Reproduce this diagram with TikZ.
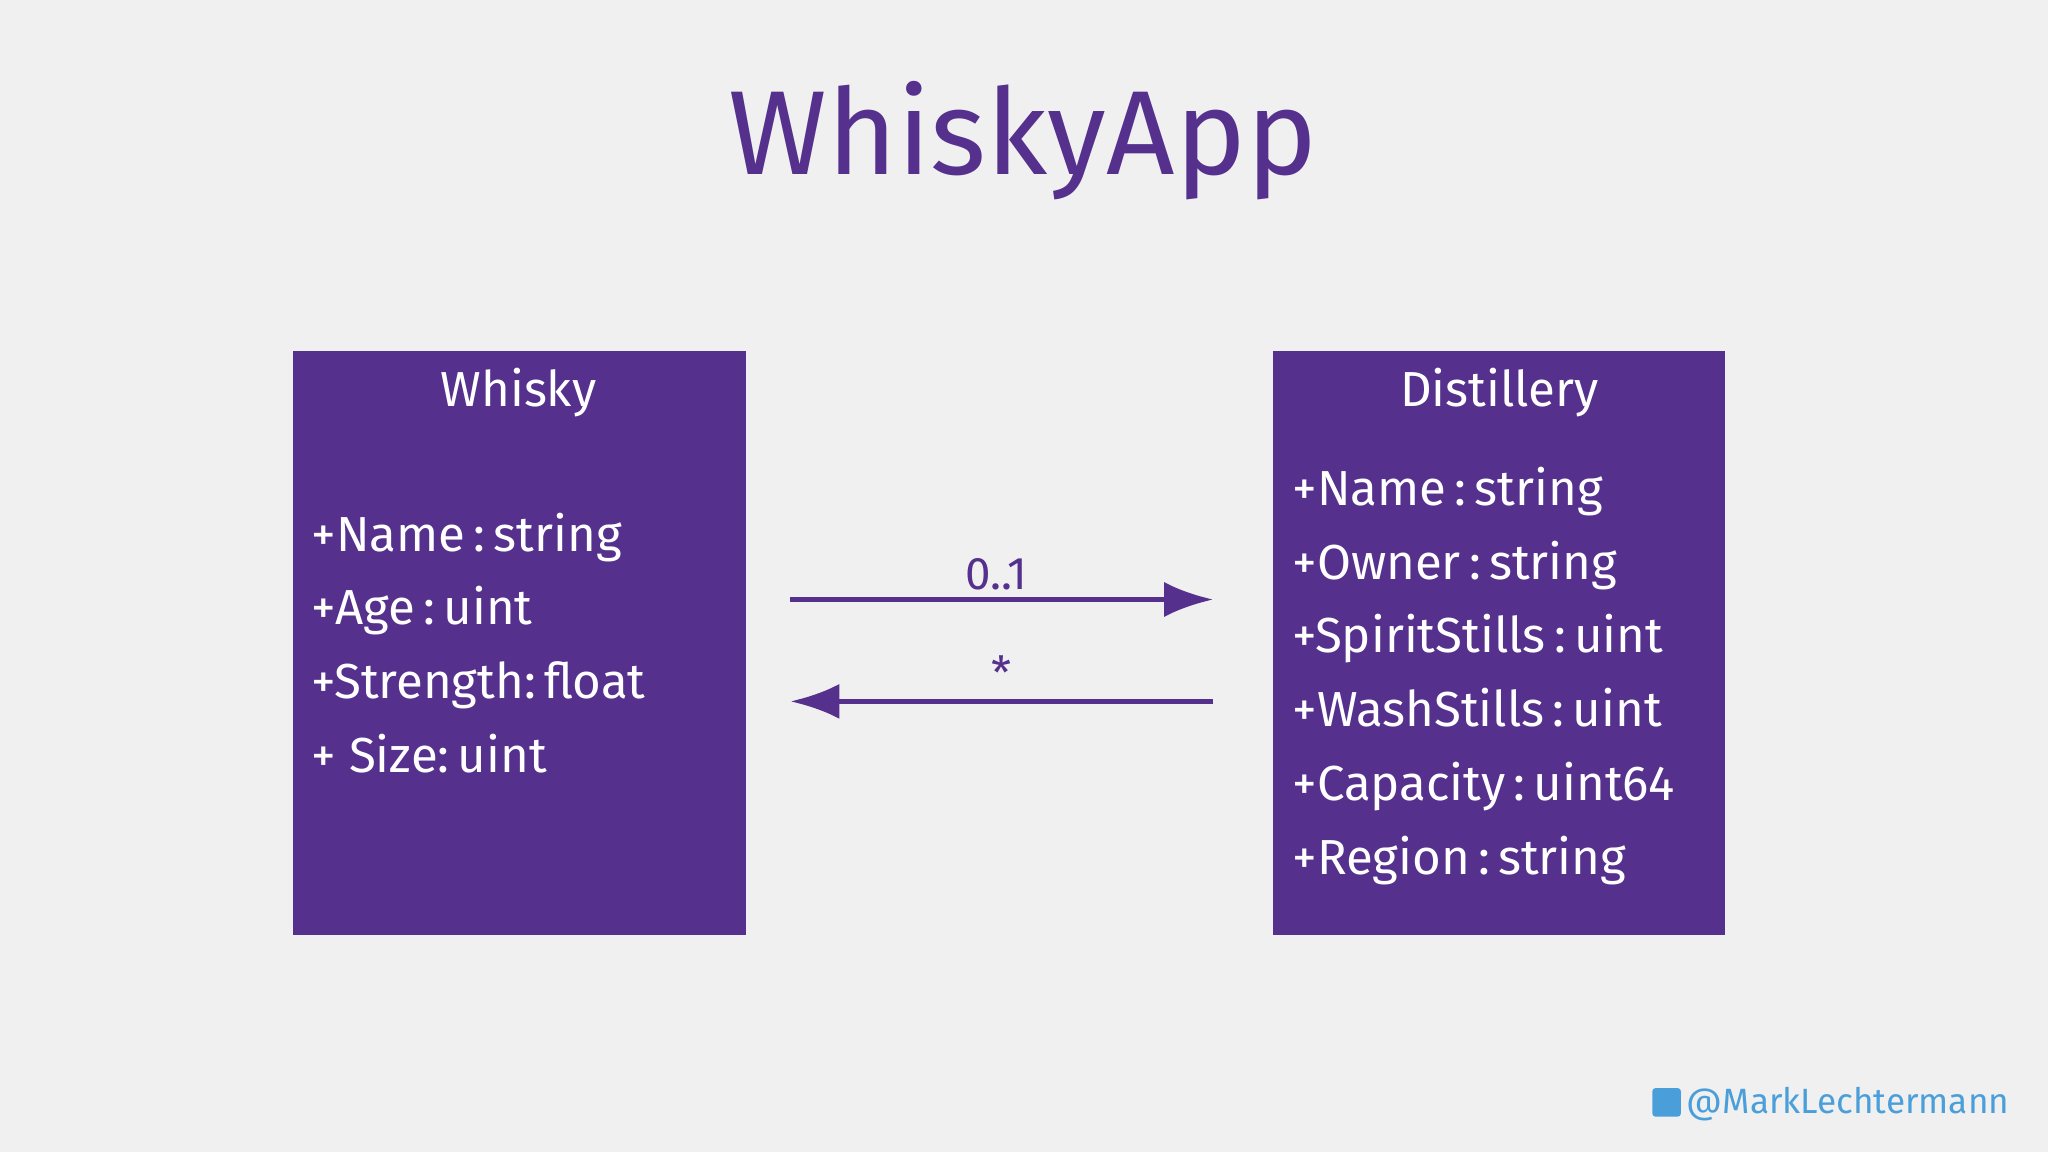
\documentclass[tikz,border=0pt]{standalone}
\usepackage{fontspec}
\setmainfont{Fira Sans}
\usetikzlibrary{arrows.meta}
\definecolor{appviolet}{HTML}{55308D}
\definecolor{appback}{HTML}{F0F0F0}
\definecolor{twblue}{HTML}{4A9FDB}
\tikzset{
  classbox/.style={fill=appviolet, draw=none},
  classname/.style={text=white, font=\fontsize{14}{16}\selectfont, anchor=north},
  attr/.style={text=white, font=\fontsize{14}{21}\selectfont, align=left, anchor=north west, inner sep=0pt},
  assoc/.style={draw=appviolet, line width=1.6pt, -{Latex[length=14pt,width=10pt]}},
  mult/.style={text=appviolet, font=\fontsize{13}{15}\selectfont}
}
\begin{document}
\begin{tikzpicture}[x=0.01306cm, y=-0.01306cm]
      \fill [appback] (0,0) rectangle (1568,882);
      \useasboundingbox (0,0) rectangle (1568,882);
      \node [text=appviolet, font=\fontsize{34}{40}\selectfont] (title) at (783,108) {WhiskyApp};
      % class boxes
      \fill [classbox] (224,269) rectangle (571,716);
      \fill [classbox] (975,269) rectangle (1321,716);
      \node [classname] (whisky) at (397,272) {Whisky};
      \node [classname] (distillery) at (1148,272) {Distillery};
      \node [attr] (whiskyattr) at (238,392) {+Name\,:\,string\\+Age\,:\,uint\\+Strength:\,float\\+ Size:\,uint};
      \node [attr] (distattr) at (989,357) {+Name\,:\,string\\+Owner\,:\,string\\+SpiritStills\,:\,uint\\+WashStills\,:\,uint\\+Capacity\,:\,uint64\\+Region\,:\,string};
      % associations
      \coordinate (topl) at (605,459);
      \coordinate (topr) at (929,459);
      \coordinate (botl) at (605,537);
      \coordinate (botr) at (929,537);
      \draw [assoc] (topl) -- (topr);
      \draw [assoc] (botr) -- (botl);
      \node [mult] (one) at (763,440) {0..1};
      \node [mult] (many) at (767,515) {*};
      % handle
      \fill [twblue, rounded corners=1pt] (1265,833) rectangle (1287,855);
      \node [text=twblue, font=\fontsize{10}{12}\selectfont, anchor=west, inner sep=0pt] (handle) at (1291,845) {@MarkLechtermann};
\end{tikzpicture}
\end{document}
